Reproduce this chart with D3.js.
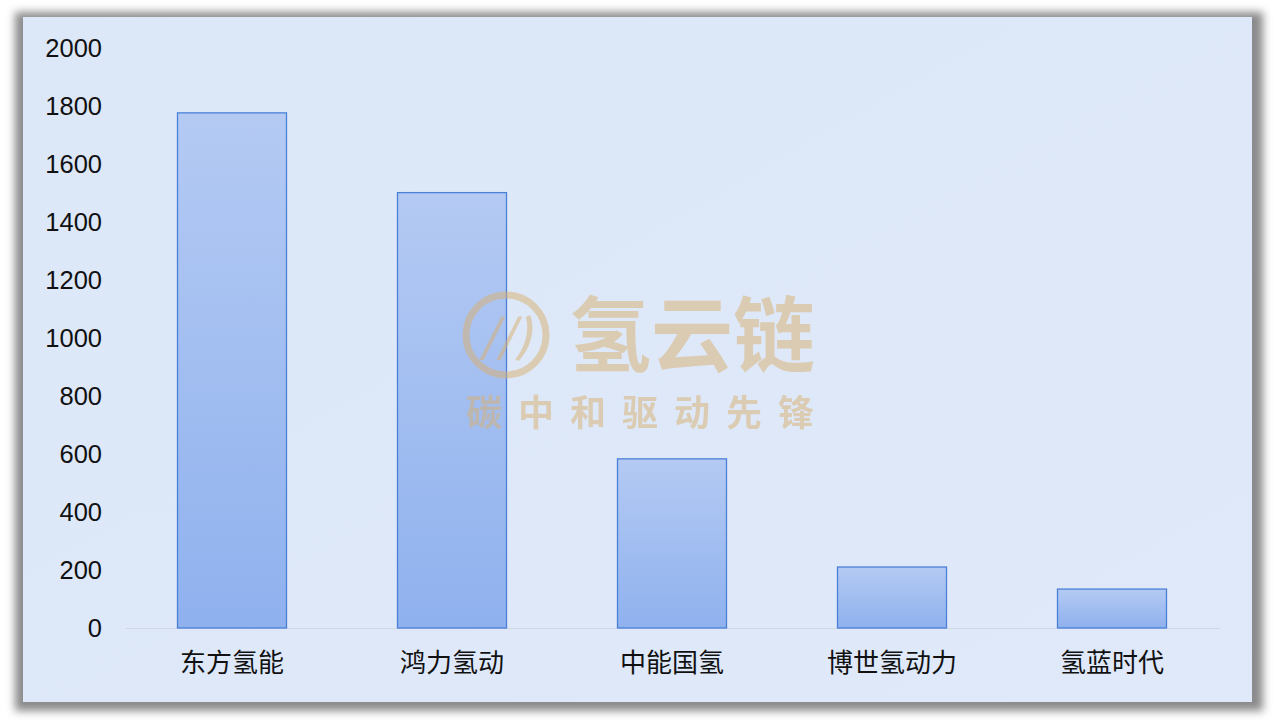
<!DOCTYPE html>
<html><head><meta charset="utf-8">
<script src="https://cdn.jsdelivr.net/npm/d3@7"></script>
<style>
html,body{margin:0;padding:0;background:#fff;}
svg{display:block;}
</style></head>
<body>
<svg id="c" width="1278" height="720"></svg>
<script>
const categories = ["东方氢能","鸿力氢动","中能国氢","博世氢动力","氢蓝时代"];
const values = [1778, 1503, 585, 212, 136];
const yTicks = [0,200,400,600,800,1000,1200,1400,1600,1800,2000];

const svg = d3.select("#c");
const defs = svg.append("defs");
const f = defs.append("filter").attr("id","sh").attr("x","-5%").attr("y","-5%").attr("width","110%").attr("height","110%");
f.append("feGaussianBlur").attr("stdDeviation",4);
const g = defs.append("linearGradient").attr("id","bg").attr("x1",0).attr("y1",0).attr("x2",0).attr("y2",1);
g.append("stop").attr("offset","0%").attr("stop-color","#b4caf3");
g.append("stop").attr("offset","100%").attr("stop-color","#8fb1ee");
const pg = defs.append("linearGradient").attr("id","pg").attr("x1",0).attr("y1",0).attr("x2",1).attr("y2",1);
pg.append("stop").attr("offset","0%").attr("stop-color","#dce7f8");
pg.append("stop").attr("offset","100%").attr("stop-color","#dfe9f9");

// frame with shadow
svg.append("rect").attr("x",15).attr("y",12).attr("width",1248).attr("height",699)
  .attr("fill","#8a8a8c").attr("filter","url(#sh)");
svg.append("rect").attr("x",23).attr("y",17).attr("width",1229).attr("height",685)
  .attr("fill","url(#pg)");

const x = d3.scaleBand().domain(categories).range([122,1222]).paddingInner(0.5).paddingOuter(0.25);
const y = d3.scaleLinear().domain([0,2000]).range([628,48]);

// baseline
svg.append("line").attr("x1",125).attr("x2",1220).attr("y1",y(0)+0.5).attr("y2",y(0)+0.5)
  .attr("stroke","#cfd8e4").attr("stroke-width",1.2);

// bars
svg.append("g").selectAll("rect").data(values).join("rect")
  .attr("x",(d,i)=>x(categories[i])+0.5)
  .attr("y",d=>y(d)+0.5)
  .attr("width",x.bandwidth()-1)
  .attr("height",d=>y(0)-y(d)-0.5)
  .attr("fill","url(#bg)")
  .attr("stroke","#4a80d8").attr("stroke-width",1.3);

// watermark (over bars)
const wm = svg.append("g").attr("opacity",0.5);
wm.append("circle").attr("cx",506).attr("cy",335).attr("r",40).attr("fill","none").attr("stroke","#d9b070").attr("stroke-width",7);
wm.append("text").attr("x",506).attr("y",352).attr("text-anchor","middle")
  .attr("font-family","Noto Sans CJK SC").attr("font-weight","bold").attr("font-style","italic").attr("font-size",44)
  .attr("fill","#d9b070").text("//)");
wm.append("text").attr("x",692).attr("y",365).attr("text-anchor","middle")
  .attr("font-family","Noto Sans CJK SC").attr("font-weight","bold").attr("font-size",82)
  .attr("fill","#d9b070").text("氢云链");
wm.append("text").attr("x",648).attr("y",426).attr("text-anchor","middle")
  .attr("font-family","Noto Sans CJK SC").attr("font-weight","bold").attr("font-size",36)
  .attr("letter-spacing",16)
  .attr("fill","#d9b070").text("碳中和驱动先锋");

// y axis
const ya = svg.append("g").attr("transform","translate(102,0)")
  .call(d3.axisLeft(y).tickValues(yTicks).tickSize(0).tickPadding(0).tickFormat(d3.format("d")));
ya.select(".domain").remove();
ya.selectAll("text").attr("font-family","Liberation Sans, Arial, sans-serif").attr("font-size",25.5).attr("fill","#111").attr("dy","0.35em");

// x axis
const xa = svg.append("g").attr("transform",`translate(0,${y(0)})`)
  .call(d3.axisBottom(x).tickSize(0).tickPadding(0));
xa.select(".domain").remove();
xa.selectAll("text").attr("font-family","Noto Sans CJK SC").attr("font-size",26).attr("fill","#111").attr("dy",0).attr("y",44);
</script>
</body></html>
